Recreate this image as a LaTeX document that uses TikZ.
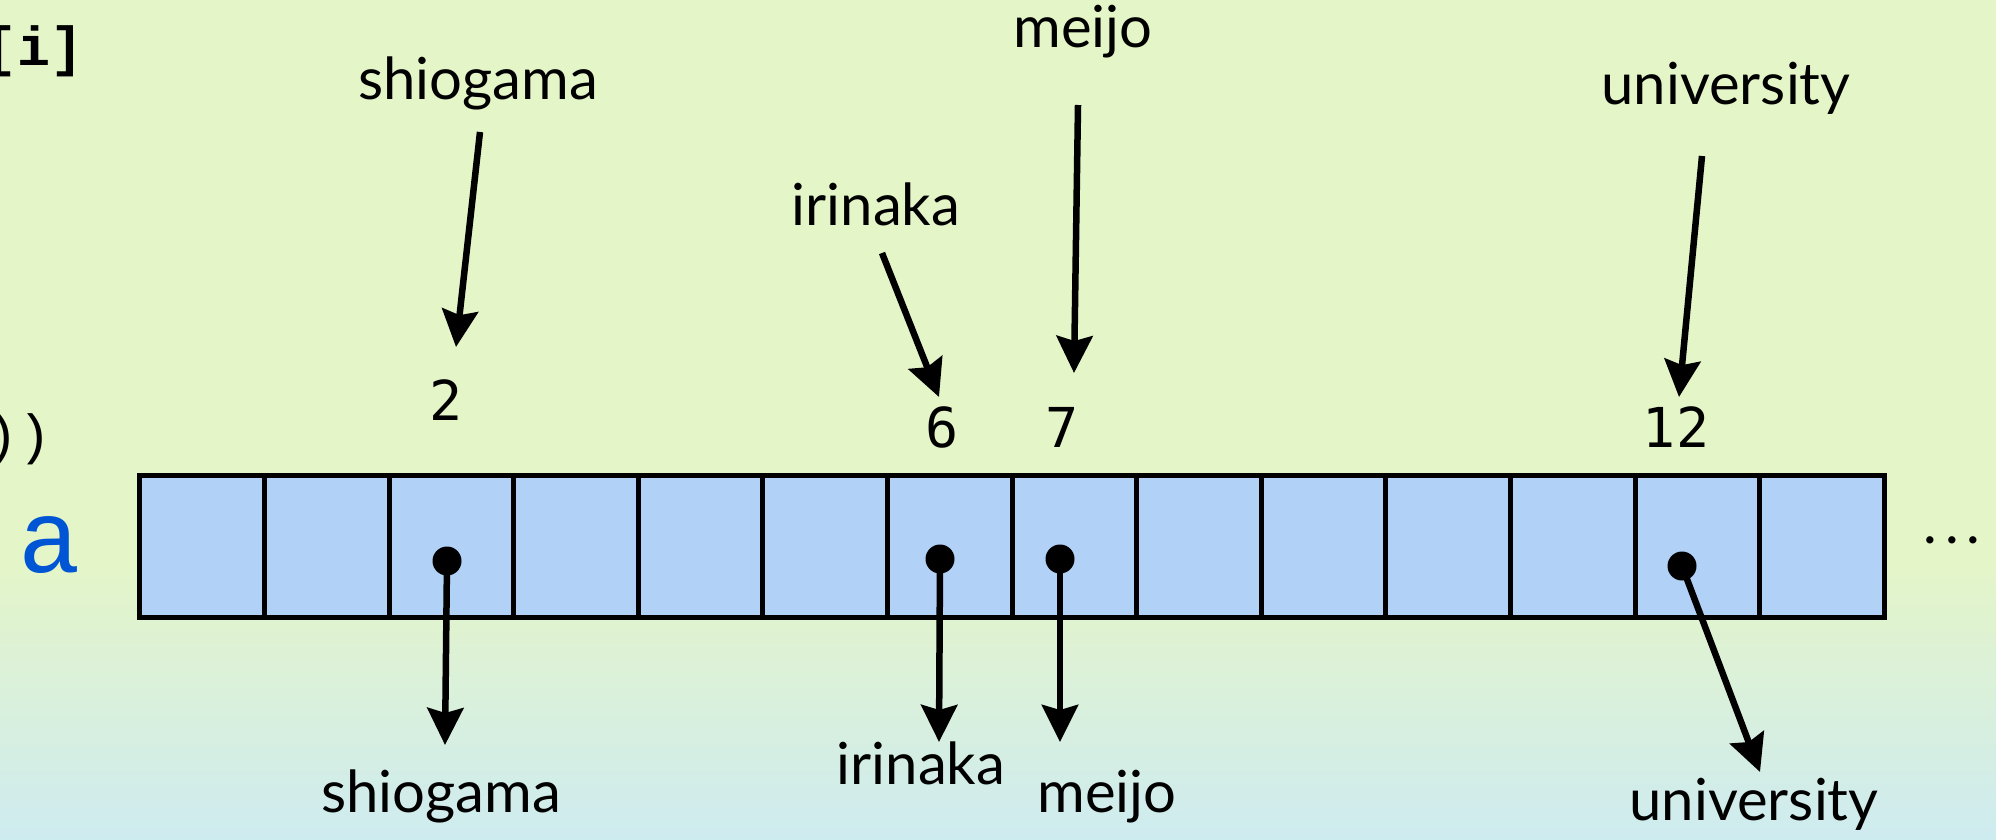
\documentclass[tikz,border=0pt]{standalone}
\usepackage{fontspec}
\setmainfont{Lato}
\newfontfamily\numfont{DejaVu Sans Mono}
\newfontfamily\codefont{Liberation Mono}
\usetikzlibrary{arrows.meta}
\definecolor{bgG}{RGB}{228,245,200}
\definecolor{bgC}{RGB}{206,235,240}
\definecolor{arrBlue}{RGB}{177,209,246}
\definecolor{codeBlue}{RGB}{0,85,212}
\tikzset{
  cellbox/.style={draw=black, line width=5pt, fill=arrBlue, minimum width=124.6pt, minimum height=142pt, inner sep=0pt, outer sep=0pt},
  dotnode/.style={circle, fill=black, minimum size=29pt, inner sep=0pt},
  idx/.style={anchor=base, inner sep=0pt, font=\numfont\fontsize{55}{55}\selectfont},
  lbl/.style={anchor=base, inner sep=0pt, font=\fontsize{58}{58}\selectfont},
  arr/.style={line width=6.5pt, -{Stealth[length=37pt, width=36pt, inset=5pt]}},
}
\begin{document}
\begin{tikzpicture}[x=1pt, y=-1pt]
\useasboundingbox (0,0) rectangle (1996,840);
\fill[bgG] (0,0) rectangle (1996,565);
\shade[top color=bgG, bottom color=bgC] (0,564) rectangle (1996,840);
% code fragments at the left edge
\node[anchor=base east, inner sep=0pt, font=\codefont\bfseries\fontsize{55}{55}\selectfont] (code1) at (84,66) {[i]};
\node[anchor=base east, inner sep=0pt, font=\codefont\fontsize{55}{55}\selectfont] (code2) at (52,453) {))};
\node[anchor=base, inner sep=0pt, text=codeBlue, font=\codefont\fontsize{104}{104}\selectfont] (aname) at (50,572) {a};
% array cells
\foreach \i in {0,...,13} {
  \node[cellbox] (c\i) at ({139.8+124.6*(\i+0.5)}, 546) {};
}
\node[anchor=base, inner sep=0pt, font=\fontsize{58}{58}\selectfont] (more) at (1952,543) {.\hspace{8pt}.\hspace{8pt}.};
% pointers
\node[dotnode] (d2) at (447,561) {};
\node[dotnode] (d6) at (940,559) {};
\node[dotnode] (d7) at (1060,559) {};
\node[dotnode] (d12) at (1682,566) {};
% indices
\node[idx] (i2) at (446,420) {2};
\node[idx] (i6) at (942,447) {6};
\node[idx] (i7) at (1062,447) {7};
\node[idx] (i12) at (1676,447) {12};
% top labels
\node[lbl] (t2) at (478,100) {shiogama};
\node[lbl] (t6) at (876,225) {irinaka};
\node[lbl] (t7) at (1083,48) {meijo};
\node[lbl] (t12) at (1726,105) {university};
% bottom labels
\node[lbl] (b2) at (441,812) {shiogama};
\node[lbl] (b6) at (921,784) {irinaka};
\node[lbl] (b7) at (1107,812) {meijo};
\node[lbl] (b12) at (1754,820) {university};
% arrow end points
\coordinate (s2) at (480,132);  \coordinate (e2) at (456,347);
\coordinate (s6) at (882,253);  \coordinate (e6) at (939,397);
\coordinate (s7) at (1078,105); \coordinate (e7) at (1074,373);
\coordinate (s12) at (1702,156); \coordinate (e12) at (1679,397);
\coordinate (f2) at (445,745);
\coordinate (f6) at (939,742);
\coordinate (f7) at (1060,742);
\coordinate (f12) at (1760,772);
\draw[arr] (s2) -- (e2);
\draw[arr] (s6) -- (e6);
\draw[arr] (s7) -- (e7);
\draw[arr] (s12) -- (e12);
\draw[arr] (d2.center) -- (f2);
\draw[arr] (d6.center) -- (f6);
\draw[arr] (d7.center) -- (f7);
\draw[arr] (d12.center) -- (f12);
\end{tikzpicture}
\end{document}
